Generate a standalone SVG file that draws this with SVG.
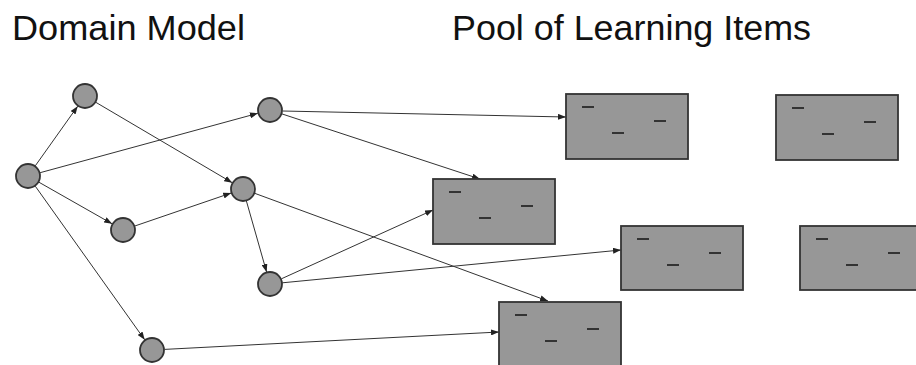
<svg xmlns="http://www.w3.org/2000/svg" width="916" height="365" viewBox="0 0 916 365">
<style>
.t{font-family:"Liberation Sans",Arial,sans-serif;font-size:35px;fill:#111}
.n{fill:#979797;stroke:#333;stroke-width:1.8}
.r{fill:#979797;stroke:#333;stroke-width:1.8}
.d{stroke:#333;stroke-width:2;fill:none}
.e{stroke:#333;stroke-width:1;fill:none;marker-end:url(#ah)}
</style>
<defs>
<marker id="ah" markerWidth="8" markerHeight="6" refX="8" refY="3" orient="auto" markerUnits="userSpaceOnUse">
<path d="M0,0 L8,3 L0,6 z" fill="#222"/>
</marker>
<g id="dashes">
<path class="d" d="M16,13 H28 M46,39 H58 M88,27 H100"/>
</g>
</defs>
<rect width="916" height="365" fill="#fff"/>
<text class="t" x="12" y="40" textLength="233" lengthAdjust="spacingAndGlyphs">Domain Model</text>
<text class="t" x="452" y="40" textLength="359" lengthAdjust="spacingAndGlyphs">Pool of Learning Items</text>
<g id="connectors">
<line class="e" x1="35.3" y1="165.8" x2="77.7" y2="106.2"/>
<line class="e" x1="40.1" y1="172.7" x2="257.9" y2="113.3"/>
<line class="e" x1="38.9" y1="182.2" x2="112.1" y2="223.8"/>
<line class="e" x1="35.3" y1="186.2" x2="144.7" y2="339.8"/>
<line class="e" x1="95.8" y1="102.3" x2="232.2" y2="182.7"/>
<line class="e" x1="134.8" y1="226" x2="231.2" y2="193"/>
<line class="e" x1="246.4" y1="201" x2="266.6" y2="272"/>
<line class="e" x1="282.5" y1="111" x2="566" y2="117"/>
<line class="e" x1="281.9" y1="113.9" x2="480" y2="179"/>
<line class="e" x1="281.4" y1="278.8" x2="433" y2="210"/>
<line class="e" x1="254.7" y1="193.3" x2="548" y2="301"/>
<line class="e" x1="282.4" y1="282.8" x2="621" y2="250"/>
<line class="e" x1="164.5" y1="349.4" x2="499" y2="332"/>
</g>
<g id="n-root"><circle class="n" cx="28" cy="176" r="12"/></g>
<g id="n-a"><circle class="n" cx="85" cy="96" r="12"/></g>
<g id="n-b"><circle class="n" cx="270" cy="110" r="12"/></g>
<g id="n-c"><circle class="n" cx="243" cy="189" r="12"/></g>
<g id="n-d"><circle class="n" cx="123" cy="230" r="12"/></g>
<g id="n-e"><circle class="n" cx="270" cy="284" r="12"/></g>
<g id="n-f"><circle class="n" cx="152" cy="350" r="12"/></g>
<g id="item1" transform="translate(566,94)"><rect class="r" width="122" height="65"/><use href="#dashes"/></g>
<g id="item2" transform="translate(776,95)"><rect class="r" width="122" height="65"/><use href="#dashes"/></g>
<g id="item3" transform="translate(433,179)"><rect class="r" width="122" height="65"/><use href="#dashes"/></g>
<g id="item4" transform="translate(621,226)"><rect class="r" width="122" height="64"/><use href="#dashes"/></g>
<g id="item5" transform="translate(800,226)"><rect class="r" width="122" height="64"/><use href="#dashes"/></g>
<g id="item6" transform="translate(499,302)"><rect class="r" width="122" height="65"/><use href="#dashes"/></g>
</svg>
